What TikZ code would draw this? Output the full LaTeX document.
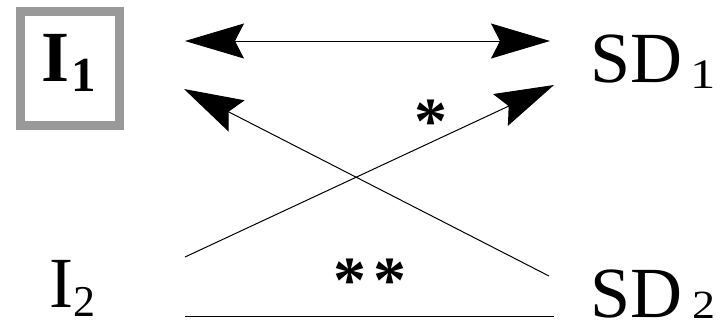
\documentclass[tikz,border=0pt]{standalone}
\usepackage{fontspec}
\setmainfont{Liberation Serif}
\usetikzlibrary{arrows.meta}
\definecolor{boxgray}{HTML}{999999}
\begin{document}
\begin{tikzpicture}[x=1pt,y=-1pt,
  >={Stealth[length=59pt,width=35pt,inset=9pt]},
  lbl/.style={inner sep=0pt, anchor=base west, font=\fontsize{72}{72}\selectfont},
  star/.style={inner sep=0pt, anchor=base, font=\fontsize{66}{66}\selectfont\bfseries},
  conn/.style={line width=1pt, black}]
\useasboundingbox (0,0) rectangle (722,325);
% box round I1
\node[draw=boxgray, line width=9pt, minimum width=99pt, minimum height=114pt, inner sep=0pt] (box) at (70,68.5) {};
% labels
\node[lbl] (I1) at (41,81) {\textbf{I}\kern1.8pt\raisebox{-10pt}{\fontsize{49}{49}\selectfont\textbf{1}}};
\node[lbl] (I2) at (49,307) {I\kern0.7pt\raisebox{-9pt}{\fontsize{44}{44}\selectfont 2}};
\node[lbl] (SD1) at (590,82) {SD\kern8pt\raisebox{-6pt}{\fontsize{42}{42}\selectfont\scalebox{1.2}[1]{1}}};
\node[lbl] (SD2) at (590,317) {SD\kern10pt\raisebox{-1pt}{\fontsize{40}{40}\selectfont\scalebox{1.15}[1]{2}}};
\node[star] (s1) at (431,143) {*};
\node[star] (s2) at (370,302.5) {\makebox[40.5pt]{*}\makebox[40.5pt]{*}};
% connector ends
\coordinate (aL) at (185,41);
\coordinate (aR) at (550,41);
\coordinate (bI1) at (184,89);
\coordinate (bSD2) at (549,276);
\coordinate (cI2) at (185,257);
\coordinate (cSD1) at (554,85);
\coordinate (dI2) at (185,316);
\coordinate (dSD2) at (554,316);
% connectors
\draw[conn, <->] (aL) -- (aR);
\draw[conn, ->] (bSD2) -- (bI1);
\draw[conn, ->] (cI2) -- (cSD1);
\draw[conn] (dI2) -- (dSD2);
\end{tikzpicture}
\end{document}
